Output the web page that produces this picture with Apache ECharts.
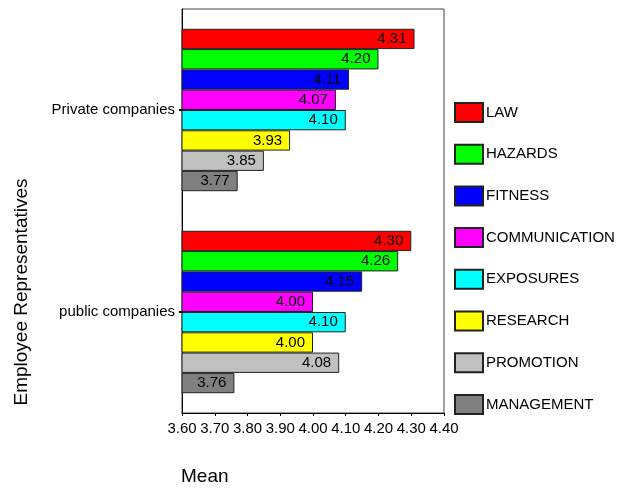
<!DOCTYPE html>
<html><head><meta charset="utf-8">
<script src="https://cdn.jsdelivr.net/npm/echarts@6/dist/echarts.min.js"></script>
<style>html,body{margin:0;padding:0;background:#fff}#c{width:622px;height:488px}</style>
</head><body><div id="c"></div>
<script>
const categories = ['Private companies', 'public companies'];
const seriesNames = ['LAW', 'HAZARDS', 'FITNESS', 'COMMUNICATION', 'EXPOSURES', 'RESEARCH', 'PROMOTION', 'MANAGEMENT'];
const lawVals = [4.31, 4.30];
const hazardsVals = [4.20, 4.26];
const fitnessVals = [4.11, 4.15];
const communicationVals = [4.07, 4.00];
const exposuresVals = [4.10, 4.10];
const researchVals = [3.93, 4.00];
const promotionVals = [3.85, 4.08];
const managementVals = [3.77, 3.76];
const xTicks = [3.6, 4.4, 0.1];

const values = [lawVals, hazardsVals, fitnessVals, communicationVals, exposuresVals, researchVals, promotionVals, managementVals];
const colors = ['#FF0000', '#00FF00', '#0000FF', '#FF00FF', '#00FFFF', '#FFFF00', '#C0C0C0', '#808080'];
const font = 'Arial, "Liberation Sans", sans-serif';

const chart = echarts.init(document.getElementById('c'));
chart.setOption({
  animation: false,
  textStyle: { fontFamily: font },
  grid: { left: 182, top: 9, width: 262, height: 404, show: true, borderColor: '#444', borderWidth: 1, backgroundColor: 'transparent' },
  xAxis: {
    type: 'value', min: xTicks[0], max: xTicks[1], interval: xTicks[2],
    axisLine: { show: true, lineStyle: { color: '#000', width: 1 } },
    axisTick: { show: true, length: 3, lineStyle: { color: '#000' } },
    splitLine: { show: false },
    axisLabel: { color: '#000', fontSize: 15, fontFamily: font, margin: 8, formatter: v => v.toFixed(2) }
  },
  yAxis: {
    type: 'category', data: categories, inverse: true,
    axisLine: { show: true, lineStyle: { color: '#000', width: 1 } },
    axisTick: { show: true, alignWithLabel: true, length: 3, lineStyle: { color: '#000', width: 2 } },
    axisLabel: { color: '#000', fontSize: 15, fontFamily: font, margin: 7 }
  },
  legend: {
    orient: 'vertical', left: 454, top: 102, padding: 0,
    itemWidth: 28, itemHeight: 19, itemGap: 20.7,
    icon: 'rect',
    textStyle: { color: '#000', fontSize: 15, fontFamily: font, padding: [0, 0, 0, -2] },
    data: seriesNames
  },
  series: seriesNames.map((n, i) => ({
    name: n, type: 'bar', data: values[i],
    barCategoryGap: '19.6%', barGap: '0%',
    itemStyle: { color: colors[i], borderColor: '#222', borderWidth: 1 },
    label: { show: true, position: 'insideRight', distance: 8, color: '#000', fontSize: 15, fontFamily: font, formatter: p => p.value.toFixed(2) }
  })),
  graphic: [
    { type: 'text', x: 181, y: 477, style: { text: 'Mean', fontSize: 19, fontFamily: font, fill: '#000', verticalAlign: 'middle' } },
    { type: 'text', x: 22, y: 292, rotation: Math.PI / 2, style: { text: 'Employee Representatives', fontSize: 19, fontFamily: font, fill: '#000', align: 'center', verticalAlign: 'middle' } }
  ]
});
</script></body></html>
